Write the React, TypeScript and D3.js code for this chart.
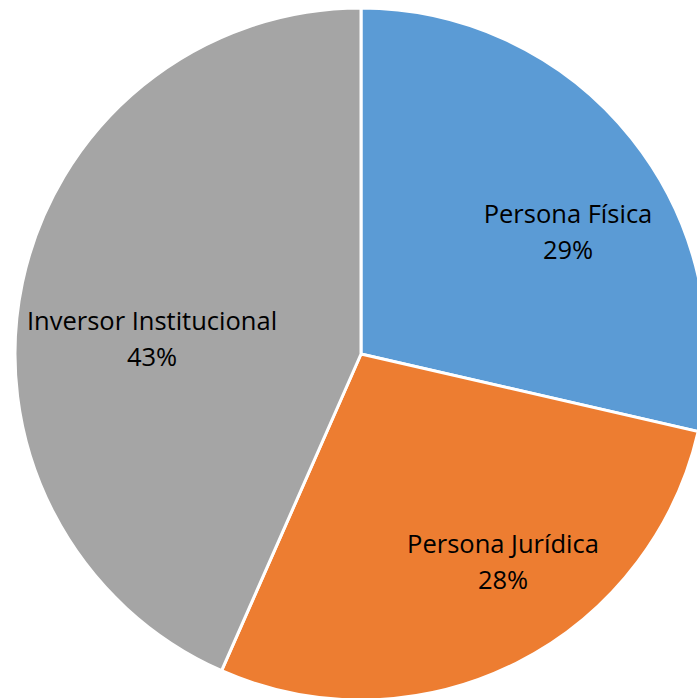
import React from "react";
import * as d3 from "d3";

const categories = ["Persona Física", "Persona Jurídica", "Inversor Institucional"];
const values = [28.6, 28.0, 43.4];
const percentLabels = ["29%", "28%", "43%"];
const colors = ["#5B9BD5", "#ED7D31", "#A5A5A5"];

// baseline of the first label line, relative to the pie center (Excel's best-fit spots)
const labelOffsets = [
  [207, -131],
  [142, 199],
  [-209, -24],
];

const width = 697;
const height = 698;
const cx = 361;
const cy = 354;
const radius = 346;

export default function App() {
  const pie = d3
    .pie<number>()
    .sort(null)
    .value((d) => d);
  const arcs = pie(values);
  const arc = d3.arc<d3.PieArcDatum<number>>().innerRadius(0).outerRadius(radius);

  return (
    <svg
      width={width}
      height={height}
      style={{ position: "absolute", left: 0, top: 0, display: "block", background: "#fff" }}
    >
      <g transform={`translate(${cx},${cy})`}>
        {arcs.map((a, i) => (
          <path key={i} d={arc(a) || ""} fill={colors[i]} stroke="#fff" strokeWidth={3} />
        ))}
        {arcs.map((a, i) => (
          <text
            key={"t" + i}
            textAnchor="middle"
            fontFamily="'Open Sans', 'Noto Sans', sans-serif"
            fontSize={25.5}
            fill="#000"
          >
            <tspan x={labelOffsets[i][0]} y={labelOffsets[i][1]}>{categories[i]}</tspan>
            <tspan x={labelOffsets[i][0]} y={labelOffsets[i][1] + 36}>{percentLabels[i]}</tspan>
          </text>
        ))}
      </g>
    </svg>
  );
}
